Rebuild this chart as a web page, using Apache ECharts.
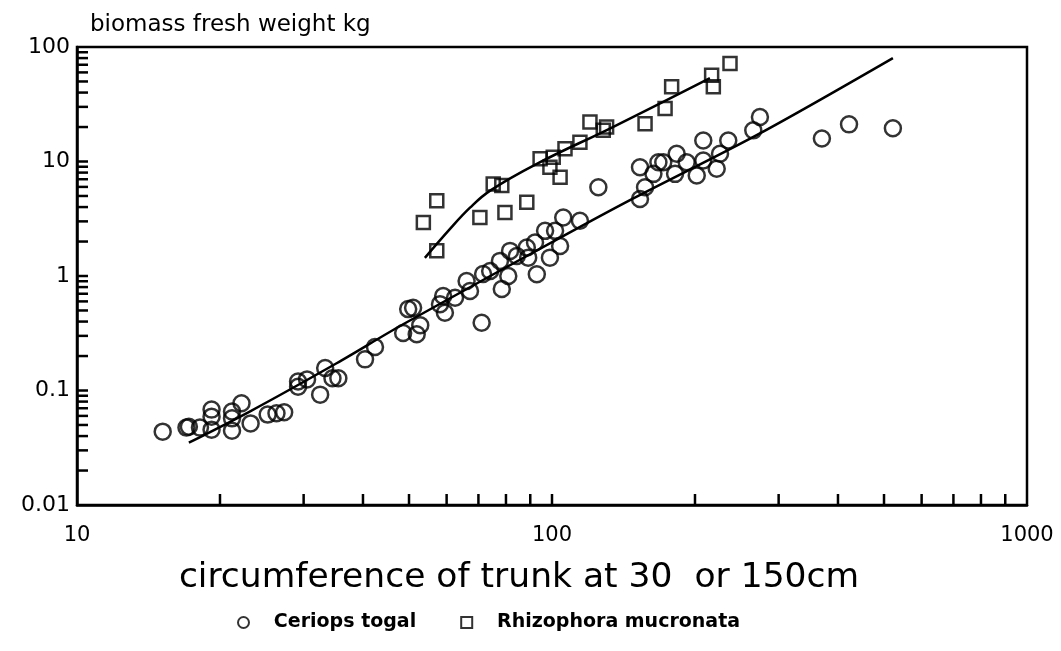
<!DOCTYPE html>
<html>
<head>
<meta charset="utf-8">
<script src="https://cdn.jsdelivr.net/npm/echarts@6/dist/echarts.min.js"></script>
<style>html,body{margin:0;padding:0;background:#fff}#c{width:1061px;height:651px}</style>
</head>
<body>
<div id="c"></div>
<script>
// Ceriops tagal: [circumference cm, biomass kg]
const ceriops = [
  [15.15,0.0437],[17.0,0.0474],[17.2,0.0483],[18.15,0.0474],[19.2,0.0681],[19.2,0.0591],[19.2,0.0455],
  [21.2,0.0655],[21.2,0.0571],[21.2,0.0446],[22.2,0.0774],[23.2,0.0516],[25.2,0.0616],[26.3,0.0632],
  [27.3,0.0645],[29.2,0.12],[29.2,0.108],[30.5,0.125],[32.5,0.092],[33.3,0.157],[34.5,0.128],[35.5,0.128],
  [40.4,0.187],[42.4,0.24],[48.6,0.318],[51.9,0.31],[52.8,0.372],[51.0,0.527],[49.8,0.514],[59.5,0.477],
  [58.1,0.568],[59.0,0.668],[62.5,0.645],[66.1,0.904],[67.2,0.739],[71.1,0.39],[71.6,1.04],[74.1,1.106],
  [77.7,1.355],[78.4,0.769],[80.9,1.0],[81.6,1.657],[84.3,1.497],[88.5,1.77],[89.1,1.447],[92.1,1.96],
  [92.9,1.035],[96.7,2.48],[99.0,1.447],[101.5,2.48],[104,1.83],[105.6,3.245],[114.5,3.04],[125.2,5.95],
  [153.2,4.71],[157,5.95],[153.2,8.91],[163.5,7.8],[167.5,9.86],[171.5,9.86],[183,11.68],[181.6,7.8],
  [192.1,9.86],[201.7,7.54],[208.2,15.28],[208.2,10.2],[222.2,8.63],[225.8,11.68],[235,15.28],
  [265.3,18.7],[274,24.5],[370,15.9],[422,21.1],[522,19.5]
];
// Rhizophora mucronata
const rhizophora = [
  [57.2,1.66],[53.6,2.93],[57.2,4.55],[70.5,3.25],[79.6,3.59],[88.5,4.4],[75.2,6.37],[78.4,6.16],
  [94.4,10.56],[100.6,10.9],[99,8.91],[104,7.29],[106.5,12.92],[114.5,14.76],[120.2,22.1],[128.2,18.7],
  [130.3,20],[157,21.4],[173,29],[178.6,44.9],[216.8,56.8],[218.6,44.9],[237,71.9]
];
// fitted curves
const ceriopsFit = [[17.2,0.035],[23.1,0.0655],[35.2,0.173],[48.6,0.379],[107.4,2.32],[148,4.74],[274,17.6],[522,80]];
const rhizoFit = [[54,1.44],[61,2.58],[67.2,3.95],[74.1,5.57],[92.9,9.55],[134,19.9],[215,53.5]];
// tick values
const xTicks = [20,30,40,50,60,70,80,90,100,200,300,400,500,600,700,800,900];
const yTicks = [0.02,0.03,0.04,0.05,0.06,0.07,0.08,0.09,0.1,0.2,0.3,0.4,0.5,0.6,0.7,0.8,0.9,1,
                2,3,4,5,6,7,8,9,10,20,30,40,50,60,70,80,90];

const FONT = 'DejaVu Sans';
const chart = echarts.init(document.getElementById('c'), null, {renderer:'canvas'});
const lineStyle = {color:'#000', width:2.5};
chart.setOption({
  animation:false,
  backgroundColor:'#fff',
  title:{text:'biomass fresh weight kg', left:85, top:9,
    textStyle:{fontFamily:FONT, fontSize:23, fontWeight:'normal', color:'#000'}},
  legend:{
    data:[{name:'Ceriops togal', icon:'circle'},{name:'Rhizophora mucronata', icon:'rect'}],
    left:232, top:608, itemGap:44, itemWidth:11, itemHeight:11,
    formatter: n => '   ' + n,
    itemStyle:{color:'rgba(0,0,0,0)', borderColor:'#000', borderWidth:2},
    textStyle:{fontFamily:FONT, fontSize:19, fontWeight:'bold', color:'#000'}
  },
  grid:{left:77, right:34, top:47, bottom:146, show:true, borderColor:'#000', borderWidth:2.5, backgroundColor:'transparent'},
  xAxis:{type:'log', logBase:10, min:10, max:1000,
    axisLine:{show:true, lineStyle}, axisTick:{show:false}, splitLine:{show:false}, minorTick:{show:false},
    axisLabel:{fontFamily:FONT, fontSize:21, color:'#000', margin:20, formatter:v=>String(v)},
    name:'circumference of trunk at 30  or 150cm', nameLocation:'middle', nameGap:56,
    nameTextStyle:{fontFamily:FONT, fontSize:34.5, color:'#000', padding:[0,66,0,0]}},
  yAxis:{type:'log', logBase:10, min:0.01, max:100,
    axisLine:{show:true, lineStyle}, axisTick:{show:false}, splitLine:{show:false}, minorTick:{show:false},
    axisLabel:{fontFamily:FONT, fontSize:22, color:'#000', margin:7, formatter:v=>String(v)}},
  series:[
    {name:'Ceriops togal', type:'scatter', data:ceriops, symbol:'circle', symbolSize:16,
      itemStyle:{color:'rgba(0,0,0,0)', borderColor:'#000', borderWidth:2.5}, z:3},
    {name:'Rhizophora mucronata', type:'scatter', data:rhizophora, symbol:'rect', symbolSize:13,
      itemStyle:{color:'rgba(0,0,0,0)', borderColor:'#000', borderWidth:2.5}, z:3},
    {name:'fitC', type:'line', data:ceriopsFit, showSymbol:false, smooth:0.3, lineStyle:{color:'#000', width:2.5}, z:2},
    {name:'fitR', type:'line', data:rhizoFit, showSymbol:false, smooth:0.4, lineStyle:{color:'#000', width:2.5}, z:2},
    {name:'xt', type:'custom', data:xTicks.map(v=>[v,0.01]), clip:false, z:4,
      renderItem:(p,api)=>{const c=api.coord([api.value(0),0.01]);
        return {type:'line', shape:{x1:c[0],y1:c[1],x2:c[0],y2:c[1]-11}, style:{stroke:'#000', lineWidth:2.5}};}},
    {name:'yt', type:'custom', data:yTicks.map(v=>[10,v]), clip:false, z:4,
      renderItem:(p,api)=>{const c=api.coord([10,api.value(1)]);
        return {type:'line', shape:{x1:c[0],y1:c[1],x2:c[0]+11,y2:c[1]}, style:{stroke:'#000', lineWidth:2.5}};}}
  ]
});
</script>
</body>
</html>
